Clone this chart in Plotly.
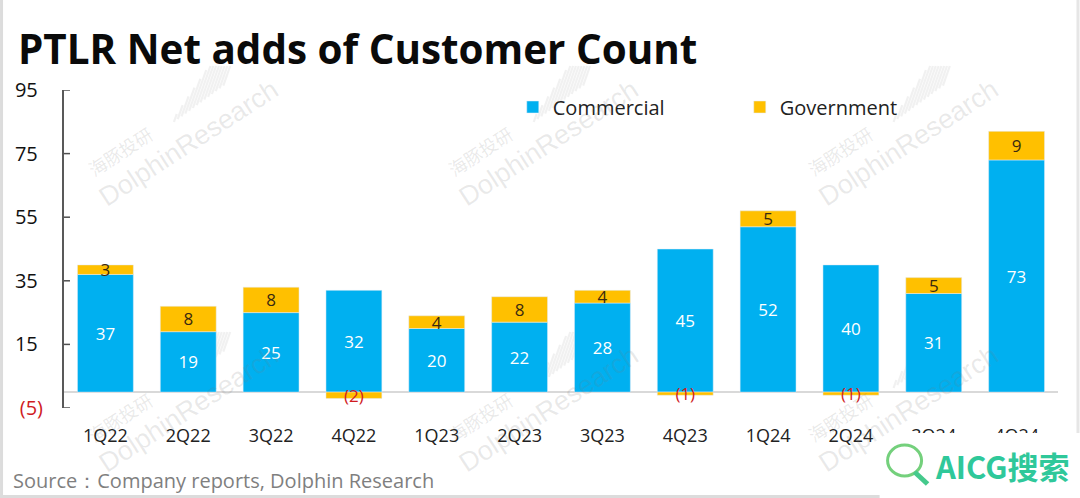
import plotly.graph_objects as go

quarters = ["1Q22","2Q22","3Q22","4Q22","1Q23","2Q23","3Q23","4Q23","1Q24","2Q24","3Q24","4Q24"]
commercial = [37,19,25,32,20,22,28,45,52,40,31,73]
government = [3,8,8,-2,4,8,4,-1,5,-1,5,9]
gov_labels = ["3","8","8","(2)","4","8","4","(1)","5","(1)","5","9"]
y_ticks = [-5,15,35,55,75,95]
y_labels = ['<span style="color:#d01c1f">(5)</span>',"15\u00a0","35\u00a0","55\u00a0","75\u00a0","95\u00a0"]

W, H = 1080, 498
L, R, T, B = 64, 21.5, 90, 90
FONT = "Open Sans"
px = lambda x: (x - L) / (W - L - R)
py = lambda y: 1 - (y - T) / (H - T - B)

fig = go.Figure()
fig.add_bar(name="Commercial", x=quarters, y=commercial, marker_color="#00B0F0",
            text=[str(v) for v in commercial], textposition="inside", insidetextanchor="middle",
            textangle=0, constraintext="none", textfont=dict(color="white", size=17, family=FONT))
fig.add_bar(name="Government", x=quarters, y=government, marker_color="#FFC000",
            text=gov_labels, textposition="inside", insidetextanchor="middle",
            textangle=0, constraintext="none",
            textfont=dict(color=["#d01c1f" if v < 0 else "#3a2a10" for v in government], size=17, family=FONT))

annotations = [
    dict(text="Source：Company reports, Dolphin Research", x=px(11), y=py(480), xanchor="left", yanchor="middle",
         showarrow=False, font=dict(size=20, color="#7f7f7f", family=FONT)),
    dict(text="<b>AICG搜索</b>", x=px(1072), y=py(465), xanchor="right", yanchor="middle",
         showarrow=False, font=dict(size=31, color="#2fc89a", family="Noto Sans CJK SC")),
]
clusters = [(0, 0), (360, 0), (720, 0), (0, 266), (360, 266), (720, 266)]
for cx, cy in clusters:
    annotations.append(dict(text="DolphinResearch", x=px(189 + cx), y=py(143 + cy), textangle=-33, showarrow=False,
                            xanchor="center", yanchor="middle",
                            font=dict(size=27, color="rgba(120,120,120,0.16)", family="Liberation Sans")))
    annotations.append(dict(text="海豚投研", x=px(120 + cx), y=py(151 + cy), textangle=-33, showarrow=False,
                            xanchor="center", yanchor="middle",
                            font=dict(size=18, color="rgba(120,120,120,0.16)", family="Noto Sans CJK SC")))

shapes = [
    dict(type="rect", xref="paper", yref="paper", x0=px(880), x1=px(W), y0=py(H), y1=py(433), layer="above",
         fillcolor="white", line_width=0),
    dict(type="circle", xref="paper", yref="paper", x0=px(888), x1=px(922), y0=py(476), y1=py(445), layer="above",
         fillcolor="rgba(0,0,0,0)", line=dict(color="#74d07c", width=3)),
    dict(type="line", xref="paper", yref="paper", x0=px(915), x1=px(928), y0=py(472), y1=py(484), layer="above",
         line=dict(color="#45c98c", width=5)),
    dict(type="rect", xref="paper", yref="paper", x0=px(0), x1=px(3), y0=py(H), y1=py(0), layer="above",
         fillcolor="#dcdcdc", line_width=0),
    dict(type="rect", xref="paper", yref="paper", x0=px(0), x1=px(880), y0=py(H), y1=py(495), layer="above",
         fillcolor="#dcdcdc", line_width=0),
    dict(type="rect", xref="paper", yref="paper", x0=px(1077), x1=px(W), y0=py(433), y1=py(0), layer="above",
         fillcolor="#e6e6e6", line_width=0),
]
# axis tick marks, placed on the y scale
for v in y_ticks:
    shapes.append(dict(type="line", xref="paper", yref="y", x0=px(64), x1=px(70), y0=v, y1=v, layer="above",
                       line=dict(color="#505050", width=1.5)))
# faint rising-stripe part of the watermark
for cx, cy in clusters:
    for i in range(14):
        fx, fy = 174 + cx + i * 3.8, 122 + cy - i * 2.8
        ln = 8 + i * 6
        top = max(fy - ln, 66 + cy)
        shapes.append(dict(type="line", xref="paper", yref="paper", layer="below",
                           x0=px(fx), y0=py(fy), x1=px(fx + (fy - top) * 0.35), y1=py(top),
                           line=dict(color="rgba(120,120,120,0.10)", width=2.2)))

fig.update_layout(
    width=W, height=H, barmode="relative", bargap=0.325,
    margin=dict(l=L, r=R, t=T, b=B),
    paper_bgcolor="white", plot_bgcolor="rgba(0,0,0,0)",
    font=dict(family=FONT, color="#222222"),
    title=dict(text="<b>PTLR Net adds of Customer Count</b>", x=18 / W, xref="container", xanchor="left",
               y=1 - 50 / H, yref="container", yanchor="middle", font=dict(size=40.4, color="#0a0a0a", family=FONT)),
    legend=dict(orientation="h", x=px(513), y=py(107), xanchor="left", yanchor="middle",
                entrywidth=182, entrywidthmode="pixels", bgcolor="rgba(0,0,0,0)",
                font=dict(size=20, color="#222222", family=FONT)),
    xaxis=dict(type="category", showline=False, showgrid=False, ticks="outside", ticklen=11, automargin=False,
               tickcolor="rgba(0,0,0,0)", tickfont=dict(size=18, color="#222222", family=FONT)),
    yaxis=dict(range=[-5, 95], tickmode="array", tickvals=y_ticks, ticktext=y_labels, showgrid=False,
               showline=True, linecolor="#595959", linewidth=2, ticks="", automargin=False,
               zeroline=True, zerolinecolor="#d9d9d9", zerolinewidth=1.5, ticklabelstandoff=15,
               tickfont=dict(size=20, color="#111111", family=FONT)),
    annotations=[dict(a, xref="paper", yref="paper") for a in annotations],
    shapes=shapes,
)
fig.write_html("out.html", config=dict(displayModeBar=False), post_script="document.body.style.margin='0';")
